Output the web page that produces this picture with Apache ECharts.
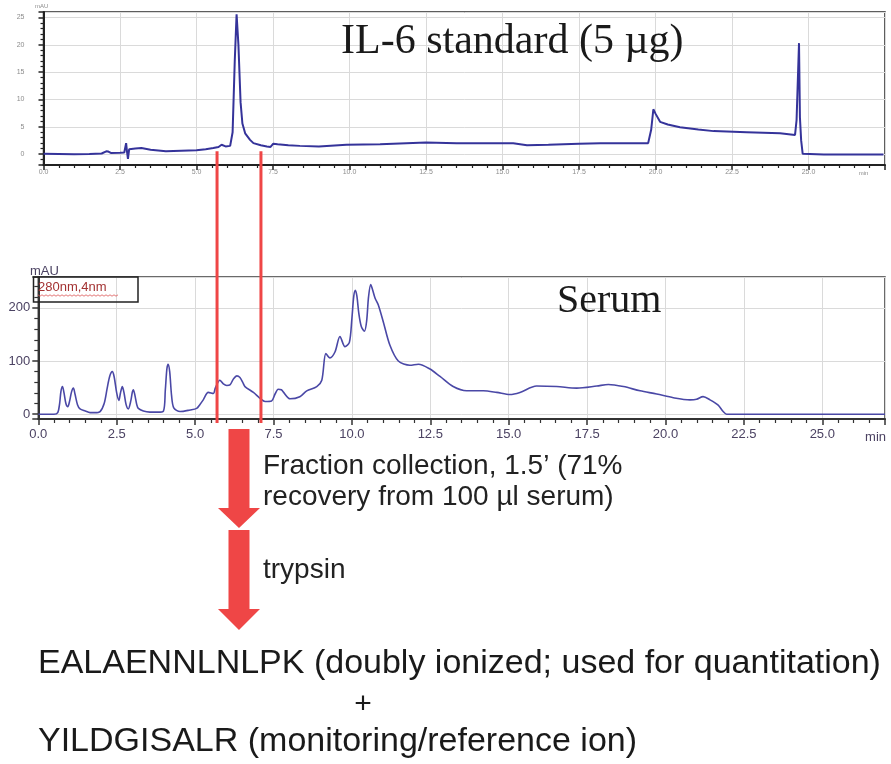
<!DOCTYPE html>
<html><head><meta charset="utf-8">
<script src="https://cdn.jsdelivr.net/npm/echarts@6/dist/echarts.min.js"></script>
<style>html,body{margin:0;padding:0;background:#fff}#c{width:891px;height:764px}</style>
</head><body><div id="c"></div>
<script>
// ---- data ----
const stdTime = [0,0.5,1.0,1.5,1.9,2.05,2.12,2.2,2.5,2.64,2.70,2.73,2.76,2.80,2.85,3.0,3.2,3.5,4.0,4.5,5.0,5.3,5.55,5.72,5.82,5.95,6.1,6.18,6.25,6.31,6.37,6.44,6.5,6.59,6.75,6.86,7.1,7.3,7.42,7.51,7.65,8.0,8.38,9.0,9.9,11.0,12.5,13.5,15.0,15.35,15.8,16.5,17.5,18.2,19.0,19.76,19.86,19.93,20.0,20.15,20.4,20.8,21.4,21.9,22.98,24.07,24.56,24.61,24.67,24.69,24.72,24.76,24.81,25.5,26.5,27.45];
const stdAbs  = [0.05,0.0,-0.05,0.0,0.1,0.5,0.45,0.2,0.25,0.3,2.0,0.4,-0.9,0.9,0.8,1.0,1.1,0.8,0.5,0.6,0.7,0.9,1.1,1.3,1.7,1.4,1.5,4.0,17,25.6,20,9.5,5.6,3.8,2.6,2.0,1.6,1.4,1.3,1.9,1.8,1.6,1.5,1.4,1.7,1.8,2.1,2.0,2.0,2.0,1.6,1.7,1.9,2.0,2.0,2.0,4.5,8.2,7.4,5.9,5.4,4.9,4.5,4.2,4.0,3.8,3.5,6.2,6.5,20.3,6.7,2.5,0.05,-0.1,-0.1,-0.1];

const serumTime = [0,0.5,0.62,0.68,0.72,0.77,0.82,0.88,0.94,1.0,1.06,1.12,1.17,1.25,1.33,1.5,1.65,1.8,1.97,2.1,2.2,2.28,2.36,2.42,2.5,2.57,2.62,2.68,2.74,2.8,2.87,2.95,3.0,3.03,3.08,3.14,3.19,3.35,3.56,3.8,3.99,4.05,4.1,4.14,4.19,4.25,4.32,4.52,4.84,5.05,5.15,5.26,5.42,5.58,5.65,5.79,5.9,6.01,6.11,6.22,6.33,6.43,6.52,6.59,6.86,7.07,7.23,7.44,7.55,7.65,7.75,7.81,8.03,8.34,8.56,8.88,9.04,9.17,9.3,9.46,9.62,9.78,9.92,10.0,10.06,10.11,10.16,10.22,10.3,10.4,10.47,10.53,10.6,10.65,10.74,10.84,11.0,11.21,11.48,11.85,12.12,12.49,12.81,13.23,13.66,14.19,14.62,15.04,15.36,15.89,16.53,17.17,17.81,18.18,18.66,19.19,19.72,20.25,20.78,20.99,21.2,21.42,21.68,21.84,21.95,27];
const serumAbs  = [0,0,3,20,42,52,40,20,14,25,42,49,38,18,10,6,3,3,5,20,50,72,80,70,40,26,40,52,38,18,10,25,42,46,36,18,11,6,4,4,6,45,85,94,80,35,12,5,8,11,18,27,41,39,50,64,57,54,55,66,72,69,60,52,41,30,24,25,38,47,46,42,29,33,44,52,64,114,106,117,146,127,135,180,222,233,222,190,165,156,175,220,244,236,218,206,174,130,100,92,94,85,71,52,44,44,41,37,41,53,52,49,53,56,52,44,38,31,27,28,33,27,17,5,0,0];

const timeTicks = [0,2.5,5,7.5,10,12.5,15,17.5,20,22.5,25];
const stdYTicks = [0,5,10,15,20,25];
const serumYTicks = [0,100,200];
const fractionWindow = [5.7, 7.1];   // minutes, collected fraction

const stdTitle = 'IL-6 standard (5 µg)';
const serumTitle = 'Serum';
const detectorLabel = '280nm,4nm';
const stepLabels = ['Fraction collection, 1.5\u2019 (71%', 'recovery from 100 µl serum)', 'trypsin'];
const peptideLines = ['EALAENNLNLPK (doubly ionized; used for quantitation)', '+', 'YILDGISALR (monitoring/reference ion)'];

// ---- chart ----
const chart = echarts.init(document.getElementById('c'), null, {renderer:'canvas'});
const pair = (xs, ys) => xs.map((x, i) => [x, ys[i]]);
const fmtTime = v => timeTicks.some(t => Math.abs(t - v) < 1e-6) ? v.toFixed(1) : '';

const smallLbl = {fontSize:7, color:'#8c8c8c', fontFamily:'Liberation Sans'};
const lbl = {fontSize:13, color:'#4b4262', fontFamily:'Liberation Sans'};

const option = {
  animation:false,
  backgroundColor:'#ffffff',
  grid:[
    {left:43.5, top:12, width:841.5, height:153, show:true, borderColor:'#2a2a2a', borderWidth:1.5, containLabel:false},
    {left:38.3, top:277, width:846.7, height:142, show:true, borderColor:'#3a3a3a', borderWidth:1.5, containLabel:false}
  ],
  xAxis:[
    {gridIndex:0, type:'value', min:0, max:27.5, interval:2.5,
     axisLine:{onZero:false, lineStyle:{color:'#222', width:2}},
     axisTick:{length:5, lineStyle:{color:'#222', width:1.5}},
     minorTick:{show:true, splitNumber:5, length:3, lineStyle:{color:'#222', width:1.2}},
     splitLine:{show:true, lineStyle:{color:'#dadada', width:1}},
     axisLabel:Object.assign({margin:4, formatter:fmtTime}, smallLbl)},
    {gridIndex:1, type:'value', min:0, max:27, interval:2.5,
     axisLine:{onZero:false, lineStyle:{color:'#333', width:2}},
     axisTick:{length:6, lineStyle:{color:'#333', width:1.5}},
     minorTick:{show:true, splitNumber:5, length:4, lineStyle:{color:'#333', width:1.2}},
     splitLine:{show:true, lineStyle:{color:'#dadada', width:1}},
     axisLabel:Object.assign({margin:9, formatter:fmtTime}, lbl)}
  ],
  yAxis:[
    {gridIndex:0, type:'value', min:-2, max:26, minInterval:5, maxInterval:5,
     axisLine:{onZero:false, lineStyle:{color:'#222', width:2}},
     axisTick:{length:5, lineStyle:{color:'#222', width:1.5}},
     minorTick:{show:true, splitNumber:5, length:3, lineStyle:{color:'#222', width:1.2}},
     splitLine:{show:true, lineStyle:{color:'#dadada', width:1}},
     axisLabel:Object.assign({margin:19, showMinLabel:false, showMaxLabel:false,
       formatter:v => stdYTicks.includes(v) ? String(v) : ''}, smallLbl)},
    {gridIndex:1, type:'value', min:-9, max:258, minInterval:100, maxInterval:100,
     axisLine:{onZero:false, lineStyle:{color:'#333', width:2}},
     axisTick:{length:6, lineStyle:{color:'#333', width:1.5}},
     minorTick:{show:true, splitNumber:5, length:4, lineStyle:{color:'#333', width:1.2}},
     splitLine:{show:true, lineStyle:{color:'#dadada', width:1}},
     axisLabel:Object.assign({margin:8, showMinLabel:false, showMaxLabel:false,
       formatter:v => serumYTicks.includes(v) ? String(v) : ''}, lbl)}
  ],
  series:[
    {type:'line', xAxisIndex:0, yAxisIndex:0, data:pair(stdTime, stdAbs), showSymbol:false, symbol:'none',
     lineStyle:{color:'#35339a', width:2}, z:5},
    {type:'line', xAxisIndex:1, yAxisIndex:1, data:pair(serumTime, serumAbs), showSymbol:false, symbol:'none', smooth:0.3,
     lineStyle:{color:'#4a48a6', width:1.6}, z:5}
  ]
};
chart.setOption(option);

// ---- annotations positioned through the chart's own scales ----
const px = (g, x, y) => chart.convertToPixel({gridIndex:g}, [x, y]);
const topY = px(0, fractionWindow[0], 0.5)[1];
const botY = px(1, fractionWindow[0], -9)[1] + 4;
const xL = px(1, fractionWindow[0], 0)[0];
const xR = px(1, fractionWindow[1], 0)[0];
const xc = (xL + xR) / 2;
const red = '#ef4646';

function arrow(cx, y0, y1, y2) {
  return {type:'polygon', shape:{points:[[cx-10.5,y0],[cx+10.5,y0],[cx+10.5,y1],[cx+21,y1],[cx,y2],[cx-21,y1],[cx-10.5,y1]]},
          style:{fill:red}, z:50};
}
function txt(x, y, text, font, fill, align) {
  return {type:'text', x:x, y:y, z:60,
          style:{text:text, font:font, fill:fill, textAlign:align||'left', textVerticalAlign:'middle', align:align||'left', verticalAlign:'middle'}};
}
const minTop = px(0, 26.8, 0)[0];
const minBot = px(1, 26.7, 0)[0];
const wavy = [];
for (let i = 0; i <= 40; i++) wavy.push([38 + i * 2, 295 + (i % 2 ? 1.2 : -0.2)]);

chart.setOption({graphic:[
  {type:'line', shape:{x1:xL, y1:topY, x2:xL, y2:botY}, style:{stroke:red, lineWidth:3}, z:40},
  {type:'line', shape:{x1:xR, y1:topY, x2:xR, y2:botY}, style:{stroke:red, lineWidth:3}, z:40},
  arrow(xc, 429, 508, 528),
  arrow(xc, 530, 609, 630),
  txt(341, 42, stdTitle, '42px "Liberation Serif"', '#1a1a1a'),
  txt(557, 301, serumTitle, '40px "Liberation Serif"', '#1a1a1a'),
  txt(35, 6, 'mAU', '6px "Liberation Sans"', '#8c8c8c'),
  txt(30, 271, 'mAU', '13px "Liberation Sans"', '#4b4262'),
  {type:'rect', shape:{x:33.5, y:277, width:104.5, height:25}, style:{fill:'rgba(0,0,0,0)', stroke:'#222', lineWidth:1.5}, z:45},
  txt(38, 287, detectorLabel, '13px "Liberation Sans"', '#a33232'),
  {type:'polyline', shape:{points:wavy}, style:{stroke:'#d55', lineWidth:0.8, fill:null}, z:46},
  txt(minTop, 173, 'min', '6px "Liberation Sans"', '#8c8c8c', 'center'),
  txt(minBot, 437, 'min', '13px "Liberation Sans"', '#4b4262', 'center'),
  txt(263, 466, stepLabels[0], '28px "Liberation Sans"', '#222'),
  txt(263, 497, stepLabels[1], '28px "Liberation Sans"', '#222'),
  txt(263, 570, stepLabels[2], '28px "Liberation Sans"', '#222'),
  txt(38, 664, peptideLines[0], '34px "Liberation Sans"', '#1a1a1a'),
  txt(363, 705, peptideLines[1], '30px "Liberation Sans"', '#1a1a1a', 'center'),
  txt(38, 742, peptideLines[2], '34px "Liberation Sans"', '#1a1a1a')
]});
</script></body></html>
